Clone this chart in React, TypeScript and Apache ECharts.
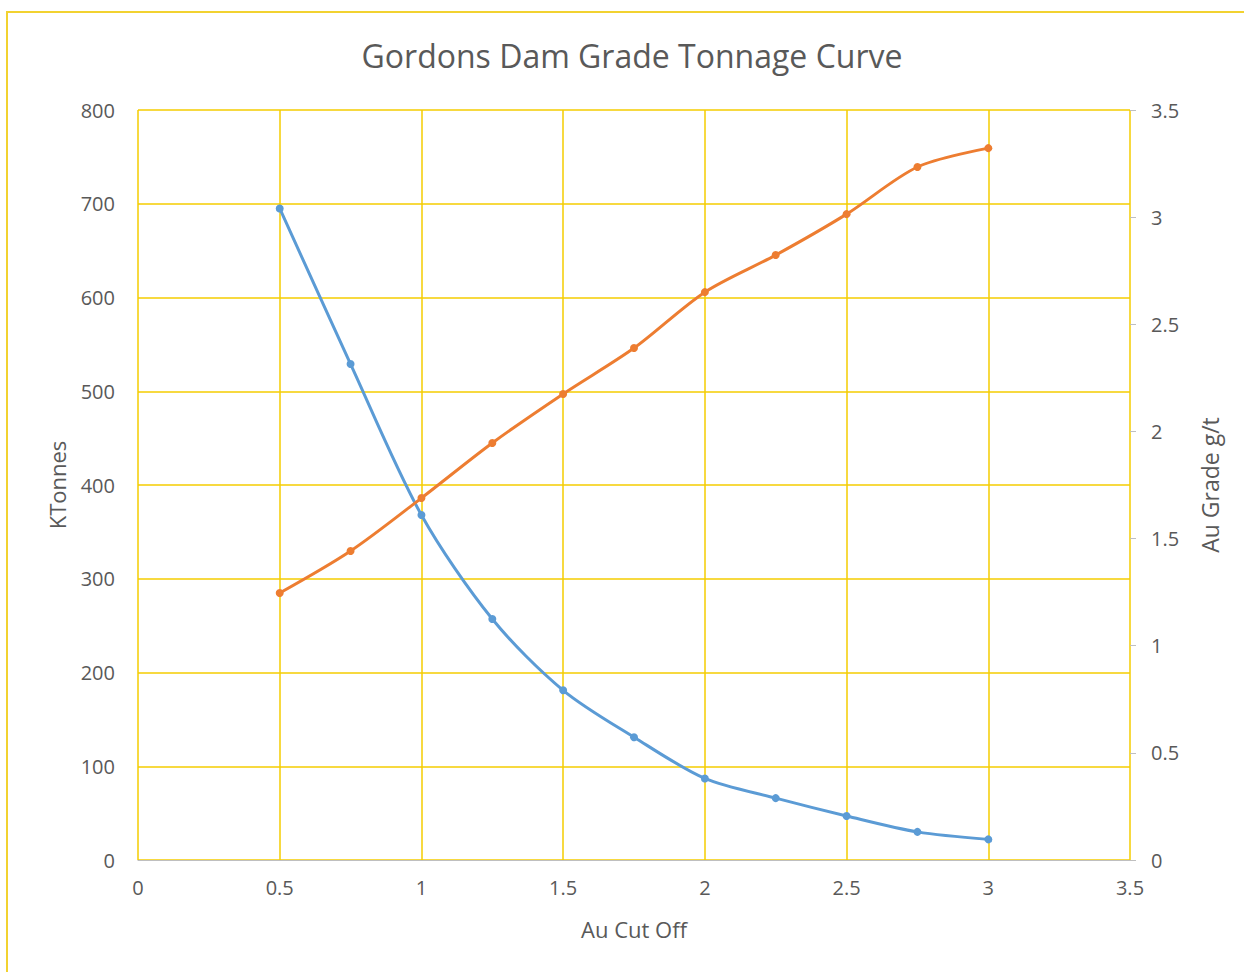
import React, { useEffect, useRef } from "react";
import * as echarts from "echarts";

const cutOffs = [0.5, 0.75, 1, 1.25, 1.5, 1.75, 2, 2.25, 2.5, 2.75, 3];
const kTonnes = [695, 529, 368, 257, 181, 131, 87, 66, 47, 30, 22];
const auGrade = [1.246, 1.442, 1.689, 1.946, 2.175, 2.389, 2.65, 2.823, 3.014, 3.234, 3.322];

const titleText = "Gordons Dam Grade Tonnage Curve";
const xName = "Au Cut Off";
const yLeftName = "KTonnes";
const yRightName = "Au Grade g/t";

const FONT = "'Open Sans', sans-serif";
const TXT = "#595959";
const GRID = "#F5CC00";

export default function App() {
  const ref = useRef<HTMLDivElement>(null);
  useEffect(() => {
    if (!ref.current) return;
    const chart = echarts.init(ref.current, undefined, { renderer: "svg" });
    chart.setOption({
      animation: false,
      backgroundColor: "#ffffff",
      textStyle: { fontFamily: FONT },
      title: {
        text: titleText,
        left: 627,
        top: 34,
        textAlign: "center",
        textStyle: { fontFamily: FONT, fontSize: 32, fontWeight: "normal", color: TXT },
      },
      graphic: [
        {
          type: "rect",
          shape: { x: 7, y: 12, width: 1260, height: 980 },
          style: { fill: "none", stroke: "#F2D230", lineWidth: 2 },
          silent: true,
        },
      ],
      grid: { left: 138, right: 114, top: 110, bottom: 112, containLabel: false },
      xAxis: {
        type: "value",
        min: 0,
        max: 3.5,
        interval: 0.5,
        name: xName,
        nameLocation: "middle",
        nameGap: 58,
        nameTextStyle: { fontFamily: FONT, fontSize: 22, color: TXT },
        axisLine: { show: true, lineStyle: { color: "#BFBFBF", width: 1 } },
        axisTick: { show: false },
        axisLabel: { fontFamily: FONT, fontSize: 20, color: TXT, margin: 17 },
        splitLine: { show: true, lineStyle: { color: GRID, width: 1.5 } },
      },
      yAxis: [
        {
          type: "value",
          min: 0,
          max: 800,
          interval: 100,
          position: "left",
          name: yLeftName,
          nameLocation: "middle",
          nameRotate: 90,
          nameGap: 70,
          nameTextStyle: { fontFamily: FONT, fontSize: 22, color: TXT },
          axisLine: { show: false },
          axisTick: { show: false },
          axisLabel: { fontFamily: FONT, fontSize: 20, color: TXT, margin: 23 },
          splitLine: { show: true, lineStyle: { color: GRID, width: 1.5 } },
        },
        {
          type: "value",
          min: 0,
          max: 3.5,
          interval: 0.5,
          position: "right",
          name: yRightName,
          nameLocation: "middle",
          nameRotate: 90,
          nameGap: 68,
          nameTextStyle: { fontFamily: FONT, fontSize: 23, color: TXT },
          axisLine: { show: false },
          axisTick: { show: true, length: 6, lineStyle: { color: "#BFBFBF" } },
          axisLabel: { fontFamily: FONT, fontSize: 20, color: TXT, margin: 21 },
          splitLine: { show: false },
        },
      ],
      series: [
        {
          name: yLeftName,
          type: "line",
          yAxisIndex: 0,
          data: cutOffs.map((x, i) => [x, kTonnes[i]]),
          smooth: 0.3,
          symbol: "circle",
          symbolSize: 8,
          lineStyle: { color: "#5B9BD5", width: 3 },
          itemStyle: { color: "#5B9BD5" },
        },
        {
          name: yRightName,
          type: "line",
          yAxisIndex: 1,
          data: cutOffs.map((x, i) => [x, auGrade[i]]),
          smooth: 0.3,
          symbol: "circle",
          symbolSize: 8,
          lineStyle: { color: "#ED7D31", width: 3 },
          itemStyle: { color: "#ED7D31" },
        },
      ],
    });
    return () => chart.dispose();
  }, []);
  return (
    <div
      ref={ref}
      style={{ position: "fixed", left: 0, top: 0, width: 1244, height: 972 }}
    />
  );
}
